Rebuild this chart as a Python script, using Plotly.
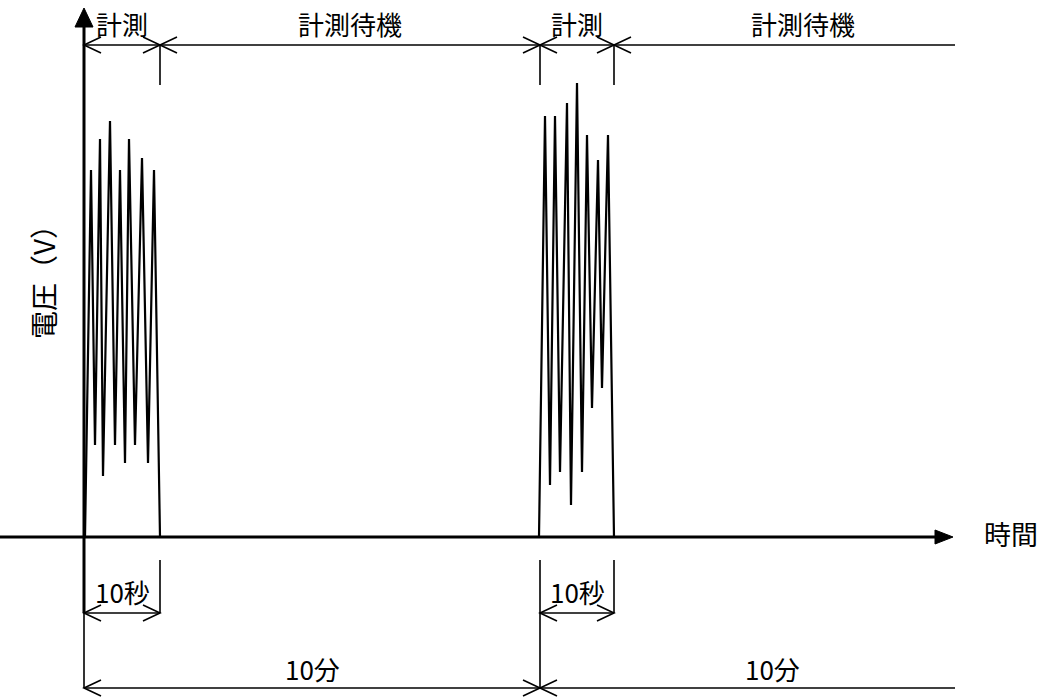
import plotly.graph_objects as go

# ---- data (schematic units: time along x, voltage along y) ----
burst1_t = [1, 7, 11, 16, 19, 26, 31, 36, 41, 45, 51, 58, 64, 70, 76]
burst1_v = [0, 367, 92, 398, 61, 416, 92, 367, 74, 398, 92, 379, 74, 367, 0]
burst2_t = [455, 461, 466, 471, 476, 483, 487, 493, 498, 503, 508, 514, 518, 524, 530]
burst2_v = [0, 421, 52, 421, 65, 434, 32, 454, 65, 402, 129, 377, 149, 402, 0]

phase_edges = [0, 76, 456, 530]          # start/end of measurement windows
phase_labels = ["計測", "計測待機", "計測", "計測待機"]
phase_label_t = [38, 266, 493, 719]
span_end = 871
dur_labels = ["10秒", "10秒"]
cycle_labels = ["10分", "10分"]
axis_labels = ["電圧（V）", "時間"]

FONT = "Noto Sans CJK JP"
BLACK = "black"

fig = go.Figure()
for t, v in [(burst1_t, burst1_v), (burst2_t, burst2_v)]:
    fig.add_trace(go.Scatter(x=t, y=v, mode="lines",
                             line=dict(color=BLACK, width=2.2),
                             hoverinfo="skip", showlegend=False))

shapes = []

def line(x0, y0, x1, y1, w=1.6):
    shapes.append(dict(type="line", x0=x0, y0=y0, x1=x1, y1=y1,
                       xref="x", yref="y", line=dict(color=BLACK, width=w)))

def vhead(x, y, direction, L=17, H=8):
    bx = x - direction * L
    shapes.append(dict(type="path",
                       path=f"M {bx},{y + H} L {x},{y} L {bx},{y - H}",
                       xref="x", yref="y", line=dict(color=BLACK, width=1.6)))

def dim(a, b, y, right_head=True):
    line(a, y, b, y)
    vhead(a, y, -1)
    if right_head:
        vhead(b, y, +1)

# axes
TOP_V = 492
line(-84, 0, 851, 0, w=3)
shapes.append(dict(type="path", path="M 851,7 L 869,0 L 851,-7 Z",
                   xref="x", yref="y", fillcolor=BLACK, line=dict(color=BLACK, width=1)))
line(0, -76, 0, 512, w=3)
shapes.append(dict(type="path", path="M -9,510 L 0,529 L 9,510 Z",
                   xref="x", yref="y", fillcolor=BLACK, line=dict(color=BLACK, width=1)))

# top phase dimension line
for i in range(len(phase_edges)):
    a = phase_edges[i]
    b = phase_edges[i + 1] if i + 1 < len(phase_edges) else span_end
    dim(a, b, TOP_V, right_head=(i + 1 < len(phase_edges)))
for e in phase_edges[1:]:
    line(e, TOP_V, e, TOP_V - 40)

# bottom dimension lines
DUR_V = -76
CYC_V = -151
line(0, -76, 0, CYC_V)
for a, b in [(phase_edges[0], phase_edges[1]), (phase_edges[2], phase_edges[3])]:
    dim(a, b, DUR_V)
line(phase_edges[1], -23, phase_edges[1], DUR_V)
line(phase_edges[3], -23, phase_edges[3], DUR_V)
line(phase_edges[2], -23, phase_edges[2], CYC_V)
dim(phase_edges[0], phase_edges[2], CYC_V)
dim(phase_edges[2], span_end, CYC_V, right_head=False)

ann = []
def text(x, y, s, angle=0, size=26):
    ann.append(dict(x=x, y=y, xref="x", yref="y", text=s, showarrow=False,
                    textangle=angle, font=dict(family=FONT, size=size, color=BLACK),
                    xanchor="center", yanchor="middle"))

for t, s in zip(phase_label_t, phase_labels):
    text(t, 514, s)
text(38, -54, dur_labels[0])
text(493, -54, dur_labels[1])
text(228, -131, cycle_labels[0])
text(688, -131, cycle_labels[1])
text(-41, 262, axis_labels[0], angle=-90, size=28)
text(927, 4, axis_labels[1], size=27)

fig.update_layout(
    width=1051, height=697,
    margin=dict(l=0, r=0, t=0, b=0),
    paper_bgcolor="white", plot_bgcolor="white",
    xaxis=dict(range=[-84, 967], visible=False, fixedrange=True),
    yaxis=dict(range=[-160, 537], visible=False, fixedrange=True),
    shapes=shapes, annotations=ann, showlegend=False,
    hovermode=False,
)
fig.write_html("out.html", config={"displayModeBar": False},
               post_script="document.body.style.margin='0';")
